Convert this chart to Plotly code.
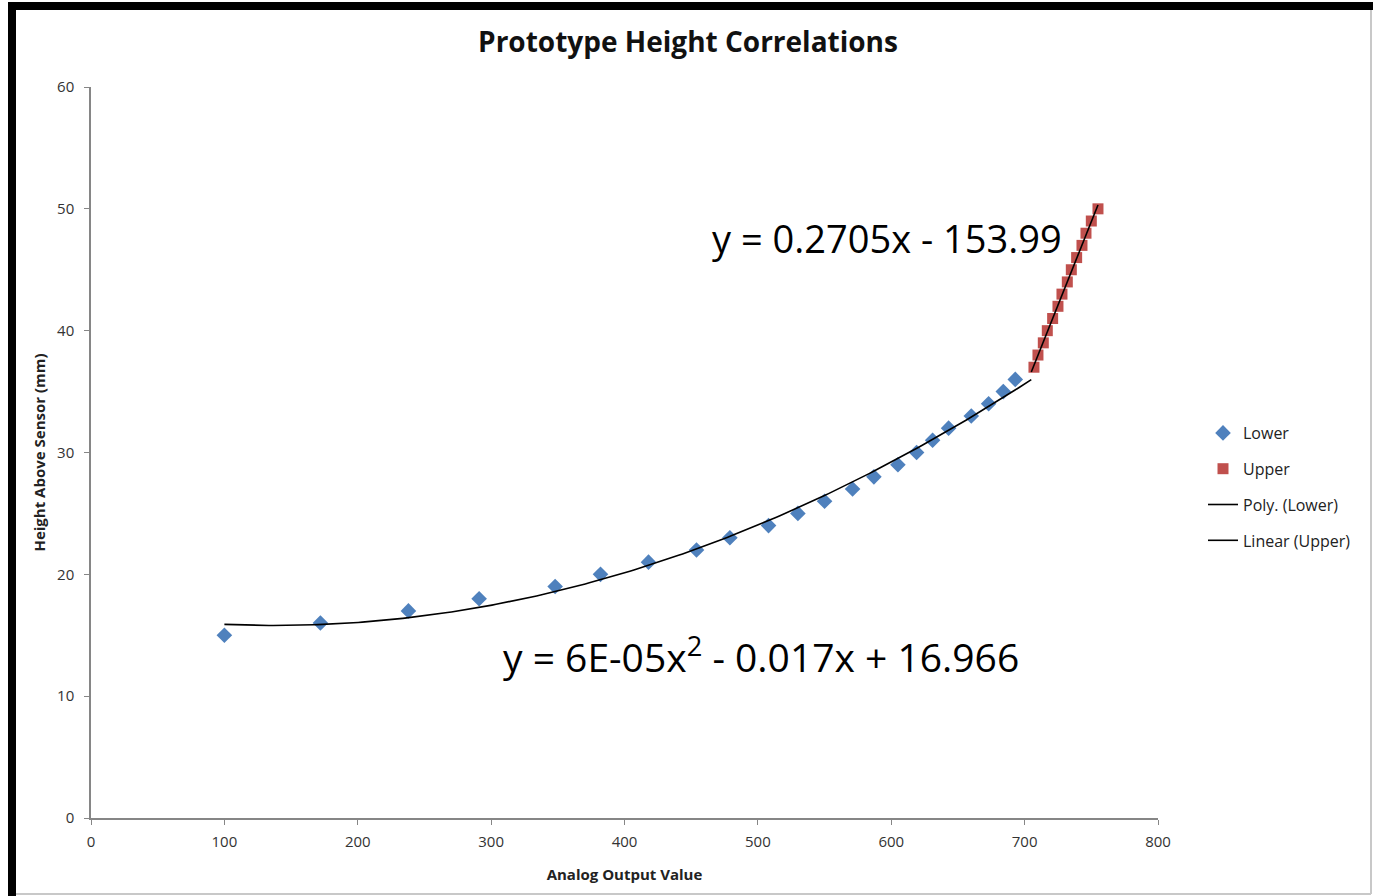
import numpy as np
import plotly.graph_objects as go

# Data
lower_x = [100, 172, 238, 291, 348, 382, 418, 454, 479, 508, 530, 550, 571, 587,
           605, 619, 631, 643, 660, 673, 684, 693]
lower_y = [15, 16, 17, 18, 19, 20, 21, 22, 23, 24, 25, 26, 27, 28,
           29, 30, 31, 32, 33, 34, 35, 36]
upper_x = [707, 710, 714, 717, 721, 725, 728, 732, 735, 739, 743, 746, 750, 755]
upper_y = [37, 38, 39, 40, 41, 42, 43, 44, 45, 46, 47, 48, 49, 50]

x_ticks = [0, 100, 200, 300, 400, 500, 600, 700, 800]
y_ticks = [0, 10, 20, 30, 40, 50, 60]

title = "Prototype Height Correlations"
x_title = "Analog Output Value"
y_title = "Height Above Sensor (mm)"
eq_upper = "y = 0.2705x - 153.99"
eq_lower = "y = 6E-05x<sup>2</sup> - 0.017x + 16.966"

# Trendlines (regressions of the data, as the spreadsheet does)
pc = np.polyfit(lower_x, lower_y, 2)
px_ = np.linspace(min(lower_x), 705, 200)
py_ = np.polyval(pc, px_)
lc = np.polyfit(upper_x, upper_y, 1)
lx_ = np.array([min(upper_x) - 2, max(upper_x)])
ly_ = np.polyval(lc, lx_)

W, H = 1373, 896
L, R, T, B = 91, 1158, 87, 818
font = "Open Sans"

fig = go.Figure()
fig.add_trace(go.Scatter(x=lower_x, y=lower_y, mode="markers", name="Lower",
                         marker=dict(symbol="diamond", size=12, color="#4F81BD"),
                         legendgroup="a"))
fig.add_trace(go.Scatter(x=upper_x, y=upper_y, mode="markers", name="Upper",
                         marker=dict(symbol="square", size=11, color="#C0504D"),
                         legendgroup="b"))
fig.add_trace(go.Scatter(x=px_, y=py_, mode="lines", name="Poly. (Lower)",
                         line=dict(color="black", width=1.6), legendgroup="c"))
fig.add_trace(go.Scatter(x=lx_, y=ly_, mode="lines", name="Linear (Upper)",
                         line=dict(color="black", width=1.6), legendgroup="d"))

def fx(p):
    return (p - L) / (R - L)

def fy(p):
    return (B - p) / (B - T)

axis_common = dict(showgrid=False, zeroline=False, showline=True, linecolor="#868686",
                   linewidth=1.5, ticks="outside", ticklen=5, tickcolor="#868686",
                   tickfont=dict(family=font, size=15, color="#333333"))

fig.update_layout(
    width=W, height=H,
    margin=dict(l=L, r=W - R, t=T, b=H - B),
    paper_bgcolor="white", plot_bgcolor="white",
    title=dict(text="<b>" + title + "</b>", x=688 / W, xanchor="center",
               y=1 - 42 / H, yanchor="middle",
               font=dict(family=font, size=28, color="#111111")),
    xaxis=dict(range=[0, 800], tickvals=x_ticks, ticklabelstandoff=4, **axis_common,
               title=dict(text="<b>" + x_title + "</b>", standoff=20,
                          font=dict(family=font, size=15, color="#222222"))),
    yaxis=dict(range=[0, 60], tickvals=y_ticks, ticklabelstandoff=7, **axis_common,
               title=dict(text="<b>" + y_title + "</b>", standoff=8,
                          font=dict(family=font, size=15, color="#222222"))),
    legend=dict(x=fx(1203), y=fy(416), xanchor="left", yanchor="top",
                font=dict(family=font, size=16, color="#222222"),
                tracegroupgap=12, bgcolor="rgba(0,0,0,0)"),
    showlegend=True,
)

fig.add_annotation(text=eq_upper, xref="paper", yref="paper", x=fx(887), y=fy(238),
                   xanchor="center", yanchor="middle",
                   showarrow=False, font=dict(family=font, size=38, color="black"))
fig.add_annotation(text=eq_lower, xref="paper", yref="paper", x=fx(761), y=fy(655),
                   xanchor="center", yanchor="middle",
                   showarrow=False, font=dict(family=font, size=39, color="black"))

# Frame around the image
fig.add_shape(type="rect", xref="paper", yref="paper", x0=fx(8), x1=fx(16),
              y0=fy(H), y1=fy(2), fillcolor="black", line_width=0, layer="above")
fig.add_shape(type="rect", xref="paper", yref="paper", x0=fx(8), x1=fx(W),
              y0=fy(10), y1=fy(2), fillcolor="black", line_width=0, layer="above")
fig.add_shape(type="line", xref="paper", yref="paper", x0=fx(1371), x1=fx(1371),
              y0=fy(10), y1=fy(894), line=dict(color="#C8C8C8", width=2))
fig.add_shape(type="line", xref="paper", yref="paper", x0=fx(16), x1=fx(1371),
              y0=fy(894), y1=fy(894), line=dict(color="#C8C8C8", width=2))

fig.write_html("out.html", config={"displayModeBar": False},
               post_script="document.body.style.margin='0';document.body.style.overflow='hidden';")
